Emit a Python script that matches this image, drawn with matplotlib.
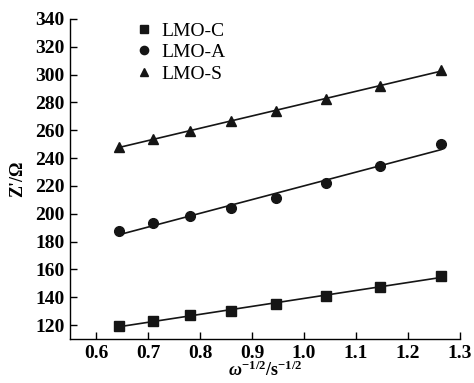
import numpy as np
import matplotlib
matplotlib.use("Agg")
import matplotlib.pyplot as plt

plt.rcParams['font.family'] = ['Liberation Serif', 'DejaVu Serif']
plt.rcParams['mathtext.fontset'] = 'custom'
plt.rcParams['mathtext.rm'] = 'Liberation Serif'
plt.rcParams['mathtext.it'] = 'Liberation Serif:italic:bold'
plt.rcParams['mathtext.bf'] = 'Liberation Serif:bold'

# omega^-1/2 values and real impedance for each sample
w = [0.644, 0.710, 0.781, 0.860, 0.947, 1.042, 1.146, 1.263]
z_c = [119.5, 123.0, 127.0, 130.0, 135.3, 141.0, 147.3, 155.4]
z_a = [187.4, 193.4, 198.3, 203.8, 211.5, 221.8, 234.6, 249.8]
z_s = [247.8, 254.0, 259.8, 266.4, 274.0, 282.4, 292.2, 303.0]
labels = ['LMO-C', 'LMO-A', 'LMO-S']
markers = ['s', 'o', '^']

fig = plt.figure(figsize=(4.74, 3.83), dpi=100)
ax = fig.add_axes([0.1477, 0.1149, 0.8228, 0.8355])

x = np.array(w)
for z, lab, m in zip([z_c, z_a, z_s], labels, markers):
    z = np.array(z)
    k, b = np.polyfit(x, z, 1)
    ax.plot(x, z, m, color='#151515', markersize=7, linestyle='none', label=lab)
    ax.plot([x[0], x[-1]], [k * x[0] + b, k * x[-1] + b], color='#151515', lw=1.2)

ax.set_xlim(0.55, 1.3)
ax.set_ylim(110, 340)
ax.set_xticks(np.arange(0.6, 1.31, 0.1))
ax.set_yticks(np.arange(120, 341, 20))
ax.xaxis.set_major_formatter(matplotlib.ticker.FormatStrFormatter('%.1f'))
ax.spines['top'].set_visible(False)
ax.spines['right'].set_visible(False)
for s in ['left', 'bottom']:
    ax.spines[s].set_linewidth(1.0)
ax.tick_params(direction='in', length=5, width=1.0, labelsize=14, pad=4)
for t in ax.get_xticklabels() + ax.get_yticklabels():
    t.set_fontweight('bold')

ax.set_xlabel(r'$\omega^{\mathbf{-1/2}}$/s$^{\mathbf{-1/2}}$', fontsize=13,
              fontweight='bold', labelpad=-1)
ax.set_ylabel("Z'/Ω", fontsize=13, fontweight='bold', labelpad=6)

ax.legend(loc='upper left', bbox_to_anchor=(0.125, 1.045), frameon=False,
          fontsize=14, handlelength=0.8, handletextpad=0.5, labelspacing=0.2,
          markerscale=0.85)

fig.savefig('out.png', dpi=100)
